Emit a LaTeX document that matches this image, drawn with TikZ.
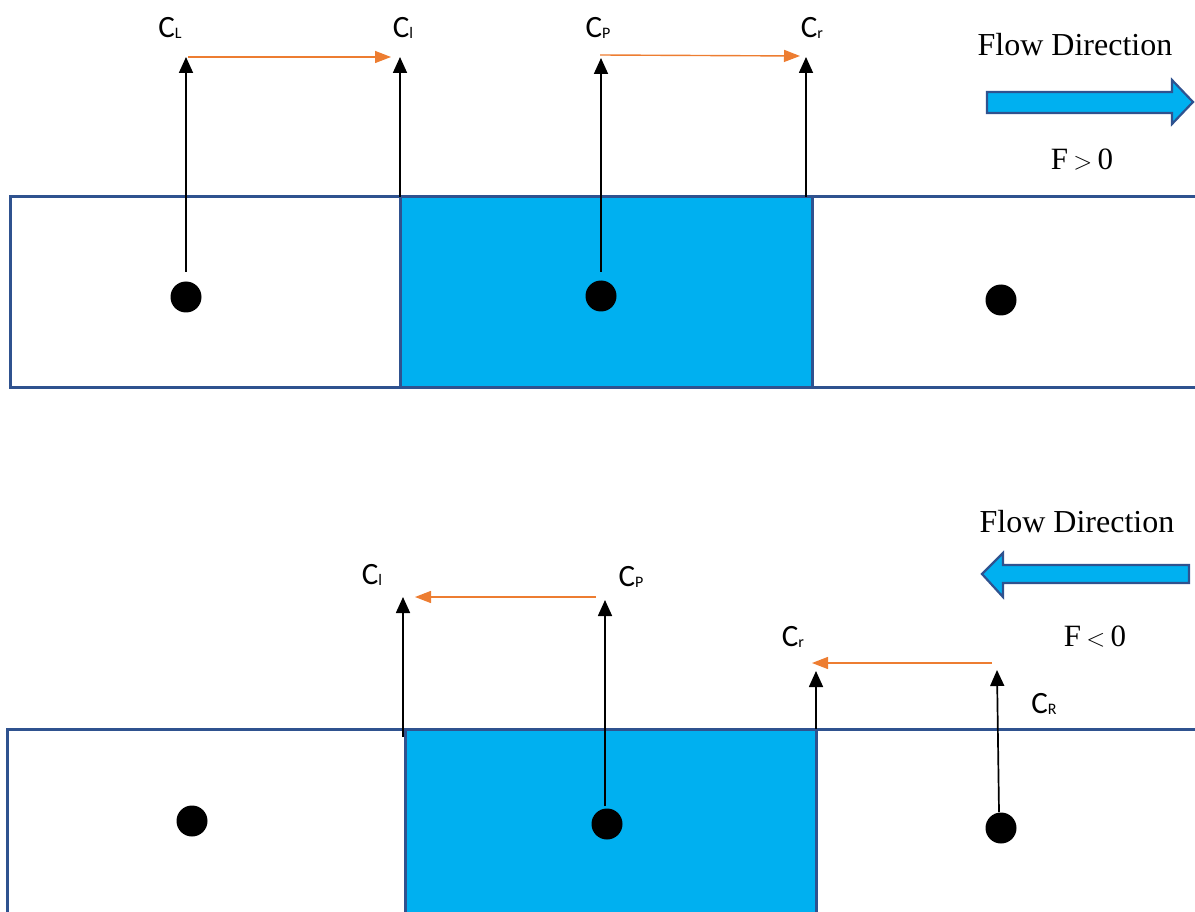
\documentclass[tikz,border=0pt]{standalone}
\usepackage{fontspec}
\setmainfont{Liberation Serif}
\newfontfamily\calfont{Carlito}
\usetikzlibrary{arrows.meta}
\definecolor{cellblue}{HTML}{00B0F0}
\definecolor{edgeblue}{HTML}{2F528F}
\definecolor{fluxorange}{HTML}{ED7D31}
\newcommand{\conc}[1]{C{\fontsize{16}{16}\selectfont\raisebox{-1pt}{#1}}}
\tikzset{
  x=1pt, y=-1pt,
  strip/.style={draw=edgeblue, line width=3pt},
  pcell/.style={draw=edgeblue, line width=3pt, fill=cellblue},
  dot/.style={circle, fill=black, inner sep=0pt, minimum size=31pt},
  value/.style={draw=black, line width=1.7pt, -{Triangle[length=16pt,width=14pt]}},
  flux/.style={draw=fluxorange, line width=1.4pt, -{Triangle[length=16pt,width=12pt]}},
  clabel/.style={font=\calfont\fontsize{31}{34}\selectfont, inner sep=0pt},
  flowtext/.style={font=\fontsize{32}{36}\selectfont, inner sep=0pt},
  signtext/.style={font=\fontsize{31}{34}\selectfont, inner sep=0pt},
  blockarrow/.style={draw=edgeblue, line width=2.2pt, fill=cellblue, line join=miter}
}
\begin{document}
\begin{tikzpicture}
\useasboundingbox (0,0) rectangle (1195,912);
\clip (0,0) rectangle (1195,912);

% ---------- upper row: F > 0 ----------
\draw[strip] (10,197) rectangle (1205,387);
\draw[pcell] (400,197) rectangle (812,387);

\node[dot] (dL) at (186,297) {};
\node[dot] (dP) at (601,296) {};
\node[dot] (dR) at (1001,300) {};

\coordinate (sL) at (186,272);
\coordinate (sl) at (400,197);
\coordinate (sP) at (601,272);
\coordinate (sr) at (806,197);
\coordinate (tL) at (186,57);
\coordinate (tl) at (400,57);
\coordinate (tP) at (601,58);
\coordinate (tr) at (806,57);

\draw[value] (sL) -- (tL);
\draw[value] (sl) -- (tl);
\draw[value] (sP) -- (tP);
\draw[value] (sr) -- (tr);

\coordinate (fa1) at (188,57);
\coordinate (fb1) at (391,57);
\coordinate (fa2) at (600,55);
\coordinate (fb2) at (800,56);
\draw[flux] (fa1) -- (fb1);
\draw[flux] (fa2) -- (fb2);

\node[clabel] (lCL) at (170,28) {\conc{L}};
\node[clabel] (lCl) at (403,28) {\conc{l}};
\node[clabel] (lCP) at (598,28) {\conc{P}};
\node[clabel] (lCr) at (812,28) {\conc{r}};

\node[flowtext] (flow1) at (1075,45) {Flow Direction};
\draw[blockarrow] (987,92) -- (1172,92) -- (1172,80) -- (1193,102)
  -- (1172,124) -- (1172,113) -- (987,113) -- cycle;
\node[signtext] (sign1) at (1082,160) {F\,$>$\,0};

% ---------- lower row: F < 0 ----------
\draw[strip] (7,729) rectangle (1205,930);
\draw[pcell] (405,729) rectangle (816,930);

\node[dot] (eL) at (192,821) {};
\node[dot] (eP) at (607,824) {};
\node[dot] (eR) at (1001,828) {};

\coordinate (ul) at (403,737);
\coordinate (uP) at (605,806);
\coordinate (ur) at (816,729);
\coordinate (uR) at (999,812);
\coordinate (vl) at (403,597);
\coordinate (vP) at (605,600);
\coordinate (vr) at (816,671);
\coordinate (vR) at (997,670);

\draw[value] (ul) -- (vl);
\draw[value] (uP) -- (vP);
\draw[value] (ur) -- (vr);
\draw[value] (uR) -- (vR);

\coordinate (ga1) at (596,597);
\coordinate (gb1) at (415,597);
\coordinate (ga2) at (992,663);
\coordinate (gb2) at (812,663);
\draw[flux] (ga1) -- (gb1);
\draw[flux] (ga2) -- (gb2);

\node[clabel] (mCl) at (372,575) {\conc{l}};
\node[clabel] (mCP) at (631,577) {\conc{P}};
\node[clabel] (mCr) at (793,637) {\conc{r}};
\node[clabel] (mCR) at (1044,704) {\conc{R}};

\node[flowtext] (flow2) at (1077,522) {Flow Direction};
\draw[blockarrow] (1189,565) -- (1003,565) -- (1003,553) -- (982,574)
  -- (1003,597) -- (1003,583) -- (1189,583) -- cycle;
\node[signtext] (sign2) at (1095,637) {F\,$<$\,0};
\end{tikzpicture}
\end{document}
